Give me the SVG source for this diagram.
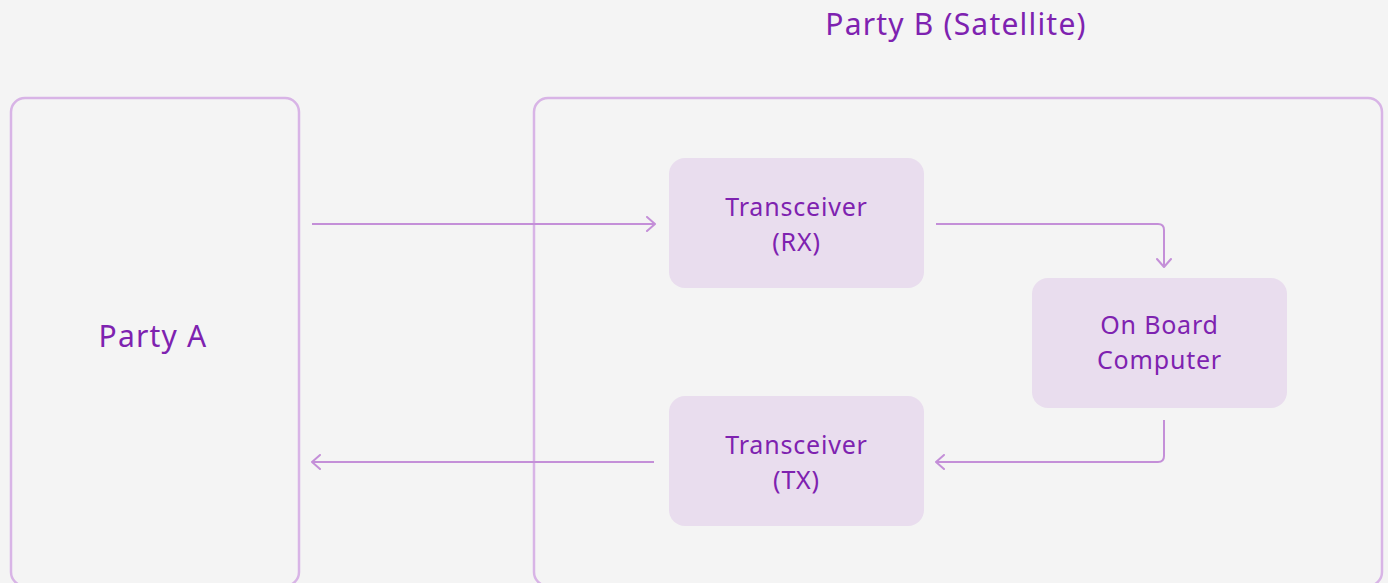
<svg xmlns="http://www.w3.org/2000/svg" width="1388" height="583" viewBox="0 0 1388 583">
  <defs>
    <style>
      .frame { fill: none; stroke: #d8b4e6; stroke-width: 2.5; }
      .node { fill: #e9ddee; }
      .label { font-family: "Noto Sans", "Open Sans", sans-serif; fill: #7e22b0; text-anchor: middle; }
      .big { font-size: 30px; letter-spacing: 1.2px; }
      .small { font-size: 25px; letter-spacing: 0.8px; }
      .wire { fill: none; stroke: #c48fd8; stroke-width: 2; marker-end: url(#arrow); }
    </style>
    <marker id="arrow" viewBox="0 0 12 16" refX="10" refY="8" markerWidth="12" markerHeight="16" markerUnits="userSpaceOnUse" orient="auto">
      <path d="M2 1 L10 8 L2 15" fill="none" stroke="#c48fd8" stroke-width="2" stroke-linecap="round" stroke-linejoin="round"/>
    </marker>
  </defs>

  <rect width="1388" height="583" fill="#f4f4f4"/>

  <!-- Party A frame -->
  <g id="party-a">
    <rect class="frame" x="11" y="98" width="288" height="488" rx="14"/>
    <text class="label big" x="153" y="347">Party A</text>
  </g>

  <!-- Party B frame -->
  <g id="party-b">
    <rect class="frame" x="534" y="98" width="848" height="488" rx="14"/>
    <text class="label big" x="956" y="35">Party B (Satellite)</text>
  </g>

  <g id="rx">
    <rect class="node" x="669" y="158" width="255" height="130" rx="16"/>
    <text class="label small" x="796.500" y="216">Transceiver</text>
    <text class="label small" x="796.500" y="251">(RX)</text>
  </g>

  <g id="obc">
    <rect class="node" x="1032" y="278" width="255" height="130" rx="16"/>
    <text class="label small" x="1159.500" y="334">On Board</text>
    <text class="label small" x="1159.500" y="369">Computer</text>
  </g>

  <g id="tx">
    <rect class="node" x="669" y="396" width="255" height="130" rx="16"/>
    <text class="label small" x="796.500" y="454">Transceiver</text>
    <text class="label small" x="796.500" y="489">(TX)</text>
  </g>

  <g id="connectors">
    <path class="wire" d="M312 224 H655"/>
    <path class="wire" d="M936 224 H1158 Q1164 224 1164 230 V267"/>
    <path class="wire" d="M1164 420 V456 Q1164 462 1158 462 H936"/>
    <path class="wire" d="M654 462 H312"/>
  </g>
</svg>
